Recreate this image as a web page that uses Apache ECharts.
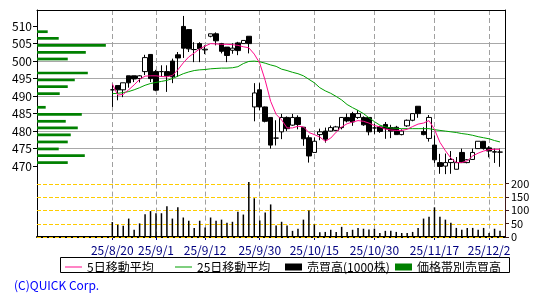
<!DOCTYPE html>
<html><head><meta charset="utf-8">
<script src="https://cdn.jsdelivr.net/npm/echarts@6/dist/echarts.min.js"></script>
<style>html,body{margin:0;padding:0;background:#fff}#c{width:550px;height:300px}</style>
</head><body><div id="c"></div>
<script>
const dates = ['25/8/20','25/8/21','25/8/22','25/8/25','25/8/26','25/8/27','25/8/28','25/8/29',
 '25/9/1','25/9/2','25/9/3','25/9/4','25/9/5','25/9/8','25/9/9','25/9/10','25/9/11','25/9/12',
 '25/9/16','25/9/17','25/9/18','25/9/19','25/9/22','25/9/24','25/9/25','25/9/26','25/9/29','25/9/30',
 '25/10/1','25/10/2','25/10/3','25/10/6','25/10/7','25/10/8','25/10/9','25/10/10','25/10/14','25/10/15',
 '25/10/16','25/10/17','25/10/20','25/10/21','25/10/22','25/10/23','25/10/24','25/10/27','25/10/28','25/10/29','25/10/30','25/10/31',
 '25/11/4','25/11/5','25/11/6','25/11/7','25/11/10','25/11/11','25/11/12','25/11/13','25/11/14',
 '25/11/17','25/11/18','25/11/19','25/11/20','25/11/21','25/11/25','25/11/26','25/11/27','25/11/28',
 '25/12/1','25/12/2','25/12/3','25/12/4'];

const open = [491.8,493.0,491.8,495.8,495.8,495.0,497.0,501.9,497.0,497.0,497.0,500.0,501.8,509.9,509.0,503.3,505.0,503.2,
 507.1,507.8,505.0,504.0,503.1,505.2,505.0,507.1,486.9,491.8,486.9,483.9,478.0,479.8,483.9,481.7,483.9,481.1,478.1,473.9,
 479.0,480.0,480.0,480.2,481.0,483.9,485.0,483.9,483.9,483.9,480.9,481.2,481.9,481.0,481.1,479.0,481.5,483.1,487.1,479.9,477.9,
 476.0,471.0,470.0,471.0,469.1,473.9,471.0,471.9,475.0,477.1,475.2,474.1,474.0];
const close = [491.8,491.8,493.8,493.8,494.9,495.8,501.0,495.0,491.7,497.0,495.8,495.5,500.9,503.7,503.5,503.3,503.5,503.4,
 507.8,505.8,502.8,501.6,503.7,503.0,505.9,505.0,490.9,486.9,482.8,476.0,478.0,483.9,480.7,483.9,481.9,477.8,472.9,477.1,
 479.8,477.7,481.0,481.2,483.9,482.9,482.6,485.0,481.8,479.8,480.9,479.9,480.7,480.0,479.0,480.0,483.1,485.0,485.0,479.0,483.9,
 471.8,469.9,471.0,471.9,471.0,471.0,471.8,473.9,477.1,475.0,474.3,474.0,474.0];
const low = [486.9,488.8,489.7,492.4,494.0,493.9,496.0,494.0,491.4,495.5,491.2,493.7,495.5,500.9,502.6,499.7,499.7,502.0,
 506.8,504.5,502.2,499.7,502.1,501.7,505.0,502.2,482.8,486.0,482.5,475.0,475.9,477.7,480.0,481.5,480.5,475.8,471.0,473.9,
 477.4,476.7,479.9,480.0,480.5,482.5,481.5,483.5,481.5,478.8,479.2,479.5,477.8,478.0,479.0,478.8,481.2,482.8,483.8,478.8,477.0,
 470.9,467.8,467.7,467.8,469.1,471.0,470.8,471.8,475.0,474.7,472.5,470.9,469.8];
const high = [493.5,493.0,493.8,495.8,495.8,496.0,501.8,502.0,497.5,498.8,498.8,500.7,502.6,512.9,509.0,505.4,505.4,504.5,
 507.8,508.2,505.2,504.0,505.1,505.5,505.9,507.1,493.7,493.7,487.0,484.0,483.1,484.9,484.2,484.9,484.5,481.1,478.8,478.2,
 480.7,481.0,481.6,481.5,484.0,485.0,485.5,486.0,484.2,484.0,482.1,481.5,482.6,481.8,481.5,480.5,483.3,485.0,487.1,481.1,484.6,
 478.8,473.5,473.6,474.3,472.6,475.0,472.0,475.0,477.1,477.1,475.7,475.0,475.0];
const ma5 = [493.5,490.3,490.5,491.8,493.2,494.8,495.7,495.8,495.8,495.6,495.5,495.9,497.5,499.5,501.2,502.3,503.5,504.3,
 505.0,504.9,504.8,504.8,504.7,504.5,504.1,503.8,502.0,499.4,494.5,488.5,484.8,483.2,480.9,480.9,481.4,481.2,479.6,479.0,
 478.3,477.1,478.0,479.7,481.2,482.1,482.6,483.0,482.8,482.3,481.6,481.2,480.6,480.3,480.2,480.2,480.5,481.3,482.0,482.3,483.0,
 480.5,476.8,474.4,472.3,471.0,471.0,471.5,472.9,473.7,474.3,474.7,474.8,474.8];
const ma25 = [490.7,490.8,491.0,491.3,491.8,492.4,493.1,493.6,493.9,494.2,494.5,495.0,495.7,496.4,496.9,497.3,497.5,497.6,
 497.8,497.9,498.0,498.0,498.1,498.4,499.3,499.9,500.0,499.8,499.4,498.9,498.5,497.7,497.3,496.8,496.4,495.8,494.8,493.8,
 492.4,491.5,490.8,489.9,488.9,487.6,486.7,485.9,485.0,483.8,482.7,481.7,481.2,480.9,480.8,480.7,480.7,480.7,480.7,480.7,480.7,
 480.4,480.2,480.0,479.8,479.6,479.3,479.1,478.8,478.4,478.1,477.8,477.3,476.9];
const volume = [56,46,42,69,27,51,85,97,89,89,115,69,111,73,61,34,61,36,73,61,65,53,57,95,84,206,145,62,92,122,
 43,57,43,23,31,65,99,47,18,19,27,19,38,19,27,34,31,28,31,15,23,23,19,15,15,19,34,69,76,111,76,65,53,34,27,34,34,27,34,15,31,23];
const bandPrice = [471.0,473.0,474.9,476.9,478.9,480.9,482.8,484.8,486.8,488.7,490.7,492.7,494.6,496.6,498.6,500.6,502.5,504.5,506.5,508.4];
const bandVolume = [184,286,130,184,202,244,172,268,52,0,136,184,226,304,0,184,292,412,130,64];
const dateTicks = ['25/8/20','25/9/1','25/9/12','25/9/30','25/10/15','25/10/30','25/11/17','25/12/2'];
const priceTicks = [470,475,480,485,490,495,500,505,510];
const volumeTicks = [0,50,100,150,200];

const LEAD = 14, TRAIL = 1;
const categories = Array(LEAD).fill('').concat(dates, Array(TRAIL).fill(''));
const isTick = (i, v) => dateTicks.indexOf(v) >= 0;
const FONT = 'Noto Sans CJK JP';
const NAVY = '#000080';
const PMIN = 465, PMAX = 514.6;
const LINE_ICON = 'path://M0,0L0.01,0L0,0.01ZM0,3H17V4H0ZM16.99,7L17,7L17,6.99Z';

const chart = echarts.init(document.getElementById('c'), null, {renderer: 'canvas', width: 550, height: 300});
const none = () => ({show: false});
chart.setOption({
  animation: false,
  backgroundColor: '#fff',
  textStyle: {fontFamily: FONT},
  title: {text: '(C)QUICK Corp.', left: 14, top: 279, padding: 0,
    textStyle: {color: '#0000ff', fontSize: 12, fontWeight: 'normal', fontFamily: FONT}},
  legend: [
    {data: [{name: '5日移動平均', icon: LINE_ICON}], left: 65, top: 261},
    {data: [{name: '25日移動平均', icon: LINE_ICON}], left: 175, top: 261},
    {data: [{name: '売買高(1000株)', icon: 'rect'}], left: 285, top: 261},
    {data: [{name: '価格帯別売買高', icon: 'rect'}], left: 395, top: 261}
  ].map(l => Object.assign({padding: 0, itemWidth: 17, itemHeight: 7, selectedMode: false,
    textStyle: {fontSize: 12, color: '#000', fontFamily: FONT}}, l)),
  graphic: [{type: 'rect', shape: {x: 60.5, y: 257.5, width: 449, height: 15},
    style: {fill: 'none', stroke: '#000', lineWidth: 1}, silent: true}],
  grid: [
    {left: 37, right: 45, top: 10, height: 173.6},
    {left: 35.86, right: 44.54, top: 10, height: 173.6},
    {left: 37, right: 45, top: 183.6, height: 53.4},
    {left: 35.86, right: 44.54, top: 183.6, height: 53.4}
  ],
  xAxis: [
    {gridIndex: 0, type: 'value', min: 0, max: 2800, position: 'top',
      axisLine: {show: true, onZero: false, lineStyle: {color: '#000'}}, axisTick: none(), axisLabel: none(), splitLine: none()},
    {gridIndex: 1, type: 'category', data: categories, boundaryGap: false,
      axisLine: none(), axisTick: none(), axisLabel: none(),
      splitLine: {show: true, interval: isTick, lineStyle: {color: '#a0a0a0', type: [5, 3], width: 1}}},
    {gridIndex: 2, type: 'value', min: 0, max: 1, position: 'bottom',
      axisLine: {show: true, onZero: false, lineStyle: {color: '#000', width: 2}}, axisTick: none(), axisLabel: none(), splitLine: none()},
    {gridIndex: 3, type: 'category', data: categories, boundaryGap: false,
      axisLine: none(),
      axisTick: {show: true, interval: isTick, length: 3, lineStyle: {color: NAVY}},
      axisLabel: {show: true, interval: isTick, color: NAVY, fontSize: 12, margin: 7, fontFamily: FONT},
      splitLine: {show: true, interval: isTick, lineStyle: {color: '#a0a0a0', type: [5, 3], width: 1}}}
  ],
  yAxis: [
    {gridIndex: 0, type: 'value', min: PMIN, max: PMAX, interval: 5, position: 'left',
      axisLine: {show: true, onZero: false, lineStyle: {color: '#000'}},
      axisTick: {show: true, customValues: priceTicks, length: 4, lineStyle: {color: '#000'}},
      axisLabel: {show: true, customValues: priceTicks, color: '#000', fontSize: 12, margin: 5, fontFamily: FONT},
      splitLine: {show: true, showMinLine: false, showMaxLine: false, lineStyle: {color: '#a8a8a8', width: 1}}},
    {gridIndex: 0, type: 'value', min: PMIN, max: PMAX, position: 'right',
      axisLine: {show: true, onZero: false, lineStyle: {color: '#000'}}, axisTick: none(), axisLabel: none(), splitLine: none()},
    {gridIndex: 1, type: 'value', min: PMIN, max: PMAX, show: false},
    {gridIndex: 2, type: 'value', min: 0, max: 200, interval: 50, position: 'right',
      axisLine: {show: true, onZero: false, lineStyle: {color: '#401818'}},
      axisTick: {show: true, customValues: volumeTicks, length: 4, lineStyle: {color: '#401818'}},
      axisLabel: {show: true, customValues: volumeTicks, color: '#000', fontSize: 11, margin: 6, fontFamily: FONT},
      splitLine: none()},
    {gridIndex: 2, type: 'value', min: 0, max: 200, position: 'left',
      axisLine: {show: true, onZero: false, lineStyle: {color: '#000'}}, axisTick: none(), axisLabel: none(), splitLine: none()},
    {gridIndex: 3, type: 'value', min: 0, max: 200, show: false}
  ],
  series: [
    {name: '価格帯別売買高', type: 'custom', xAxisIndex: 0, yAxisIndex: 0, z: 1,
      itemStyle: {color: '#008000'},
      data: bandPrice.map((p, i) => [bandVolume[i], p]),
      encode: {x: 0, y: 1},
      renderItem: function (params, api) {
        const v = api.value(0), p = api.value(1);
        if (!v) return null;
        const a = api.coord([0, p + 0.39]);
        const b = api.coord([v, p - 0.39]);
        return {type: 'rect', shape: {x: a[0], y: a[1], width: b[0] - a[0], height: b[1] - a[1]},
          style: {fill: '#008000'}};
      }},
    {type: 'custom', xAxisIndex: 2, yAxisIndex: 3, silent: true, z: 1, clip: false,
      data: volumeTicks.map(v => [0, v]),
      encode: {x: 0, y: 1},
      renderItem: function (params, api) {
        const cs = params.coordSys;
        const y = Math.round(api.coord([0, api.value(1)])[1]) + 0.5;
        return {type: 'line', shape: {x1: cs.x, y1: y, x2: cs.x + cs.width, y2: y},
          style: {stroke: '#ffcc00', lineWidth: 1, lineDash: [4, 2]}};
      }},
    {name: '株価', type: 'candlestick', xAxisIndex: 1, yAxisIndex: 2, barWidth: 5, z: 3,
      itemStyle: {color: '#ffffff', color0: '#000000', borderColor: '#000000', borderColor0: '#000000', borderWidth: 1},
      encode: {x: 0, y: [1, 2, 3, 4]},
      data: dates.map((d, i) => [d, open[i], close[i], low[i], high[i]])},
    {name: '25日移動平均', type: 'line', xAxisIndex: 1, yAxisIndex: 2, symbol: 'none', z: 4,
      lineStyle: {color: '#00a000', width: 1}, itemStyle: {color: '#00a000'},
      data: dates.map((d, i) => [d, ma25[i]])},
    {name: '5日移動平均', type: 'line', xAxisIndex: 1, yAxisIndex: 2, symbol: 'none', z: 5,
      lineStyle: {color: '#ff0a8c', width: 1}, itemStyle: {color: '#ff0a8c'},
      data: dates.map((d, i) => [d, ma5[i]])},
    {name: '売買高(1000株)', type: 'bar', xAxisIndex: 3, yAxisIndex: 5, barWidth: 1.5, clip: false, z: 3,
      itemStyle: {color: '#000'},
      data: dates.map((d, i) => [d, volume[i]])}
  ]
});
</script>
</body></html>
